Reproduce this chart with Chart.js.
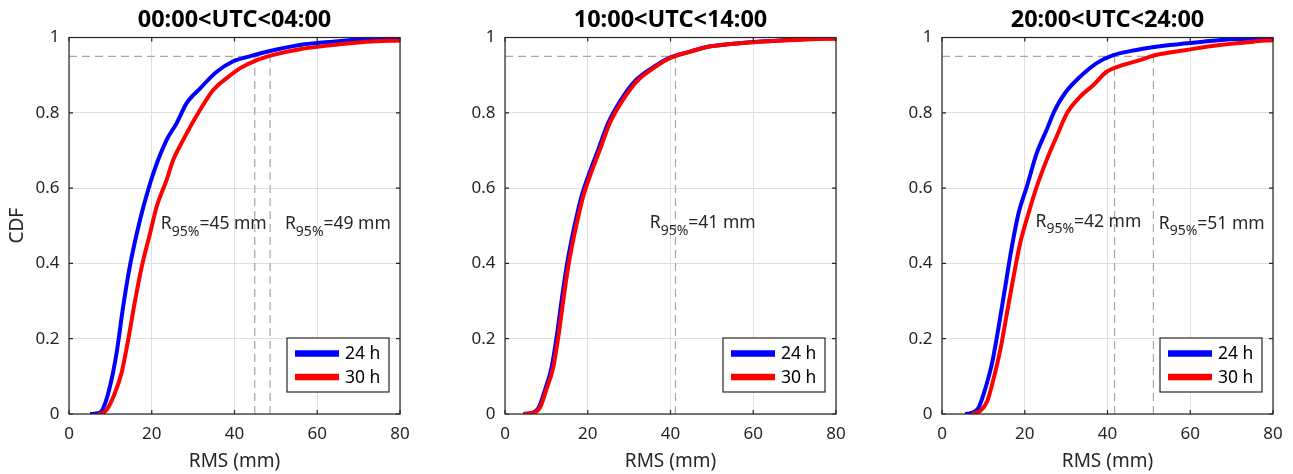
<!DOCTYPE html>
<html><head><meta charset="utf-8">
<script src="https://cdn.jsdelivr.net/npm/chart.js@4.4.1/dist/chart.umd.min.js"></script>
<style>
html,body{margin:0;padding:0;background:#fff;width:1293px;height:474px;overflow:hidden;position:relative;}
canvas{position:absolute;top:0;}
</style></head><body>
<canvas id="c1" width="413" height="474" style="left:3px;width:413px;height:474px"></canvas>
<canvas id="c2" width="413" height="474" style="left:439px;width:413px;height:474px"></canvas>
<canvas id="c3" width="413" height="474" style="left:876px;width:413px;height:474px"></canvas>
<script>
// ---- data ----
const panelTitles = ['00:00<UTC<04:00', '10:00<UTC<14:00', '20:00<UTC<24:00'];
const seriesNames = ['24 h', '30 h'];
const xTicks = [0, 20, 40, 60, 80];
const xTickLabels = ['0', '20', '40', '60', '80'];
const yTicks = [0, 0.2, 0.4, 0.6, 0.8, 1];
const yTickLabels = ['0', '0.2', '0.4', '0.6', '0.8', '1'];
const cdfLevel = 0.95;

// panel 1 : 00-04 UTC
const p1_24h_x = [5.1, 7.3, 8.3, 9.9, 11.5, 13.1, 14.7, 16.4, 18.0, 20.4, 23.6, 26.0, 28.4, 31.7, 35.7, 39.7, 43.7, 47.8, 55.8, 63.9, 71.9, 80];
const p1_24h_y = [0, 0.003, 0.016, 0.073, 0.162, 0.286, 0.392, 0.480, 0.551, 0.640, 0.728, 0.772, 0.825, 0.865, 0.909, 0.937, 0.950, 0.962, 0.980, 0.989, 0.996, 0.998];
const p1_30h_x = [7.0, 8.0, 9.1, 11.1, 12.7, 14.3, 16.0, 17.6, 19.6, 21.2, 23.6, 25.2, 27.6, 31.7, 34.9, 38.1, 41.3, 45.4, 49.4, 55.8, 63.9, 71.9, 80];
const p1_30h_y = [0, 0.002, 0.011, 0.056, 0.109, 0.197, 0.303, 0.392, 0.480, 0.551, 0.622, 0.675, 0.728, 0.808, 0.861, 0.892, 0.918, 0.940, 0.954, 0.969, 0.980, 0.989, 0.992];
const p1_r95 = [44.9, 48.6];
const p1_r95Labels = ['45', '49'];

// panel 2 : 10-14 UTC
const p2_24h_x = [4.4, 6.6, 8.1, 9.7, 11.3, 12.5, 13.7, 14.9, 16.1, 17.3, 18.5, 20.1, 22.5, 24.9, 28.0, 31.3, 35.4, 39.5, 44.5, 49.3, 56.6, 64.6, 72.7, 80];
const p2_24h_y = [0, 0.003, 0.016, 0.065, 0.126, 0.206, 0.303, 0.392, 0.463, 0.524, 0.578, 0.631, 0.701, 0.772, 0.834, 0.883, 0.918, 0.945, 0.962, 0.976, 0.985, 0.991, 0.996, 0.998];
const p2_30h_x = [4.4, 6.8, 8.4, 10.0, 11.7, 12.9, 14.1, 15.3, 16.5, 17.7, 18.9, 20.5, 22.9, 25.3, 28.5, 31.8, 35.8, 39.8, 44.6, 49.4, 56.7, 64.7, 72.8, 80];
const p2_30h_y = [0, 0.003, 0.016, 0.065, 0.126, 0.206, 0.303, 0.392, 0.463, 0.524, 0.578, 0.631, 0.701, 0.772, 0.834, 0.883, 0.918, 0.945, 0.962, 0.976, 0.985, 0.991, 0.995, 0.997];
const p2_r95 = [41.2];
const p2_r95Labels = ['41'];

// panel 3 : 20-24 UTC
const p3_24h_x = [5.6, 7.2, 8.8, 10.4, 12.1, 13.7, 15.3, 16.9, 18.5, 20.5, 22.9, 25.3, 27.3, 29.7, 33.4, 37.4, 41.4, 47.0, 55.1, 63.1, 71.2, 80];
const p3_24h_y = [0, 0.003, 0.016, 0.065, 0.135, 0.232, 0.339, 0.445, 0.533, 0.604, 0.693, 0.755, 0.808, 0.852, 0.896, 0.932, 0.953, 0.967, 0.980, 0.989, 0.996, 0.998];
const p3_30h_x = [7.2, 9.2, 10.9, 12.4, 14.1, 15.7, 17.3, 18.9, 20.9, 22.9, 25.3, 27.7, 30.2, 33.4, 36.6, 39.8, 43.8, 47.8, 51.9, 59.1, 67.1, 75.2, 80];
const p3_30h_y = [0, 0.008, 0.033, 0.091, 0.171, 0.268, 0.365, 0.454, 0.533, 0.604, 0.675, 0.737, 0.799, 0.843, 0.874, 0.909, 0.927, 0.940, 0.954, 0.967, 0.980, 0.989, 0.993];
const p3_r95 = [41.7, 51.1];
const p3_r95Labels = ['42', '51'];

// ---- layout (annotation anchors in data units, kept apart from data) ----
const noteAnchorX = [[22.2, 52.2], [35.0], [22.6, 52.4]];
const noteAnchorY = [[0.491, 0.491], [0.494], [0.498, 0.492]];

const FONT = '"Noto Sans", "Open Sans", sans-serif';
const panels = [
  {id: 'c1', x24: p1_24h_x, y24: p1_24h_y, x30: p1_30h_x, y30: p1_30h_y, r95: p1_r95, lab: p1_r95Labels},
  {id: 'c2', x24: p2_24h_x, y24: p2_24h_y, x30: p2_30h_x, y30: p2_30h_y, r95: p2_r95, lab: p2_r95Labels},
  {id: 'c3', x24: p3_24h_x, y24: p3_24h_y, x30: p3_30h_x, y30: p3_30h_y, r95: p3_r95, lab: p3_r95Labels}
];

function pts(xs, ys) { return xs.map((x, i) => ({x: x, y: ys[i]})); }

const matlabPlugin = {
  id: 'matlabBox',
  afterDraw(chart, args, opts) {
    const ctx = chart.ctx;
    const {left, right, top, bottom} = chart.chartArea;
    const sx = chart.scales.x, sy = chart.scales.y;
    ctx.save();
    // annotations
    ctx.fillStyle = '#262626';
    ctx.textBaseline = 'alphabetic';
    ctx.textAlign = 'left';
    opts.notes.forEach(n => {
      let px = sx.getPixelForValue(n.x);
      const py = sy.getPixelForValue(n.y);
      ctx.font = '17.5px ' + FONT;
      ctx.fillText('R', px, py);
      px += ctx.measureText('R').width;
      ctx.font = '14px ' + FONT;
      ctx.fillText('95%', px, py + 6.5);
      px += ctx.measureText('95%').width;
      ctx.font = '17.5px ' + FONT;
      ctx.fillText('=' + n.text + ' mm', px, py);
    });
    // box
    ctx.strokeStyle = '#262626';
    ctx.lineWidth = 1.2;
    ctx.strokeRect(left, top, right - left, bottom - top);
    // inward ticks
    ctx.beginPath();
    xTicks.forEach(v => {
      const p = sx.getPixelForValue(v);
      ctx.moveTo(p, bottom); ctx.lineTo(p, bottom - 4);
      ctx.moveTo(p, top); ctx.lineTo(p, top + 4);
    });
    yTicks.forEach(v => {
      const p = sy.getPixelForValue(v);
      ctx.moveTo(left, p); ctx.lineTo(left + 4, p);
      ctx.moveTo(right, p); ctx.lineTo(right - 4, p);
    });
    ctx.stroke();
    // legend
    const bw = 102, bh = 54;
    const bx = right - 11 - bw, by = bottom - 22 - bh;
    ctx.fillStyle = '#ffffff';
    ctx.fillRect(bx, by, bw, bh);
    ctx.lineWidth = 1.2;
    ctx.strokeStyle = '#262626';
    ctx.strokeRect(bx, by, bw, bh);
    const entries = opts.legendOrder.map(i => chart.data.datasets[i]);
    entries.forEach((ds, k) => {
      const ly = by + 15.5 + k * 23.4;
      ctx.beginPath();
      ctx.strokeStyle = ds.borderColor;
      ctx.lineWidth = 6.5;
      ctx.moveTo(bx + 8, ly); ctx.lineTo(bx + 52, ly);
      ctx.stroke();
      ctx.fillStyle = '#000000';
      ctx.font = '17.5px ' + FONT;
      ctx.textBaseline = 'middle';
      ctx.fillText(ds.label, bx + 58, ly + 1);
    });
    ctx.restore();
  }
};

function dashed(points) {
  return {label: '', data: points, borderColor: '#a6a6a6', borderWidth: 1.2, borderDash: [8, 5],
          pointRadius: 0, order: 3, fill: false};
}

panels.forEach((P, idx) => {
  const rMax = Math.max.apply(null, P.r95);
  const datasets = [
    {label: seriesNames[1], data: pts(P.x30, P.y30), borderColor: '#ff0000', borderWidth: 4,
     pointRadius: 0, order: 0, fill: false, cubicInterpolationMode: 'monotone'},
    {label: seriesNames[0], data: pts(P.x24, P.y24), borderColor: '#0000ff', borderWidth: 4,
     pointRadius: 0, order: 1, fill: false, cubicInterpolationMode: 'monotone'},
    dashed([{x: 0, y: cdfLevel}, {x: rMax, y: cdfLevel}])
  ];
  P.r95.forEach(r => datasets.push(dashed([{x: r, y: 0}, {x: r, y: cdfLevel}])));
  const notes = P.lab.map((t, i) => ({text: t, x: noteAnchorX[idx][i], y: noteAnchorY[idx][i]}));

  new Chart(document.getElementById(P.id), {
    type: 'line',
    data: {datasets: datasets},
    options: {
      responsive: false, animation: false, devicePixelRatio: 1,
      layout: {padding: {left: 0, right: 16, top: 0, bottom: 0}},
      plugins: {
        legend: {display: false},
        tooltip: {enabled: false},
        title: {display: true, text: panelTitles[idx], fullSize: false, color: '#000000',
                font: {family: FONT, size: 23.5, weight: 'bold', lineHeight: 1.2},
                padding: {top: 6, bottom: 3.3}},
        matlabBox: {notes: notes, legendOrder: [1, 0]}
      },
      scales: {
        x: {
          type: 'linear', min: 0, max: 80,
          afterBuildTicks: s => { s.ticks = xTicks.map(v => ({value: v})); },
          afterFit: s => { s.height = 60; s.paddingLeft = 0; s.paddingRight = 0; },
          ticks: {callback: (v, i) => xTickLabels[i], padding: 10, color: '#262626', maxRotation: 0,
                  autoSkip: false, font: {family: FONT, size: 17, lineHeight: 1.2}},
          grid: {color: '#dfdfdf', lineWidth: 1, drawTicks: false},
          border: {display: false},
          title: {display: true, text: 'RMS (mm)', color: '#262626',
                  font: {family: FONT, size: 19, lineHeight: 1.2}, padding: {top: 0, bottom: 1}}
        },
        y: {
          type: 'linear', min: 0, max: 1,
          afterBuildTicks: s => { s.ticks = yTicks.map(v => ({value: v})); },
          afterFit: s => { s.width = 66; s.paddingTop = 0; s.paddingBottom = 0; },
          ticks: {callback: (v, i) => yTickLabels[i], padding: 9.5, color: '#262626',
                  autoSkip: false, font: {family: FONT, size: 17, lineHeight: 1.2}},
          grid: {color: '#dfdfdf', lineWidth: 1, drawTicks: false},
          border: {display: false},
          title: {display: idx === 0, text: 'CDF', color: '#262626',
                  font: {family: FONT, size: 19, lineHeight: 1.2}, padding: {top: 3, bottom: 0}}
        }
      }
    },
    plugins: [matlabPlugin]
  });
});
</script>
</body></html>
